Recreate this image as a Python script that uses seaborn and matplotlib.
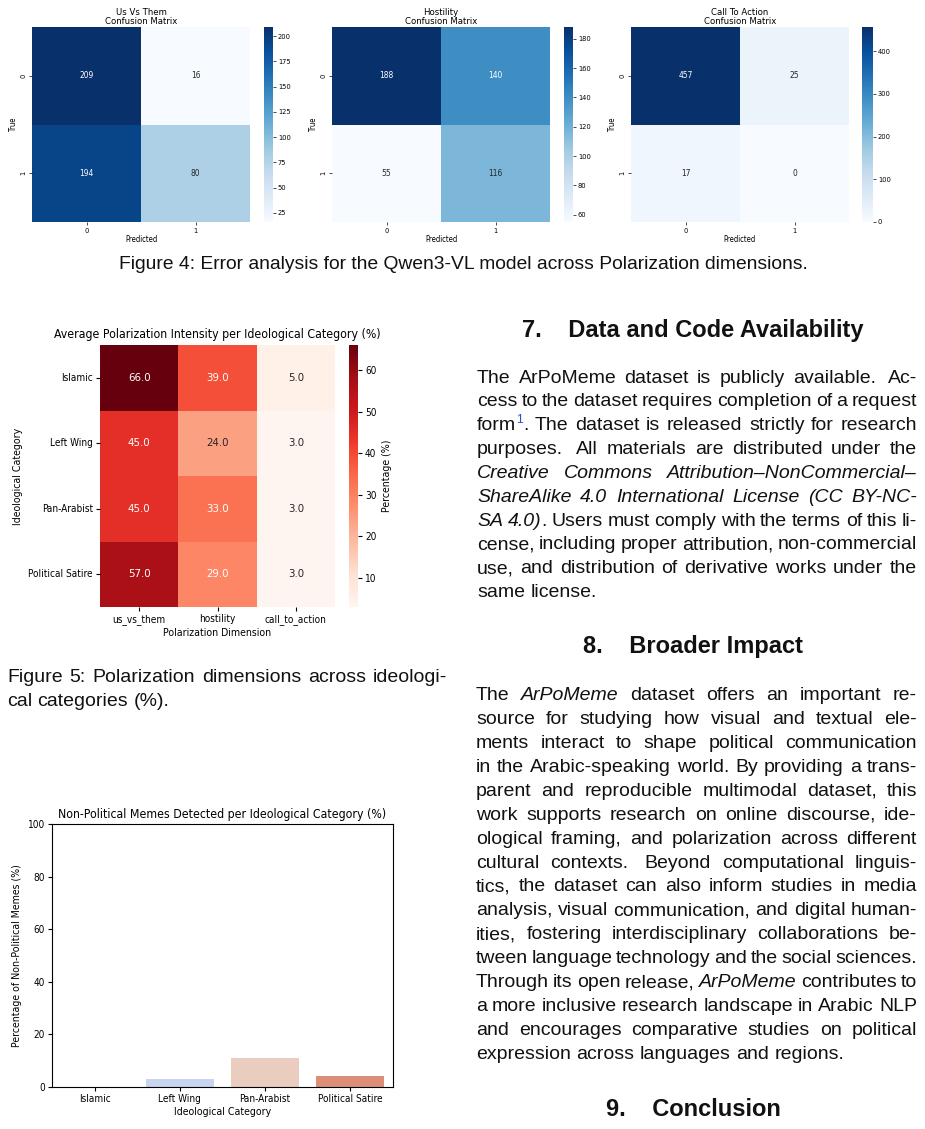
import re
import numpy as np
import pandas as pd
import seaborn as sns
import matplotlib.pyplot as plt
from matplotlib import font_manager

W, H = 925, 1129

# confusion matrices, rows = true, cols = predicted
cm_titles = ["Us Vs Them", "Hostility", "Call To Action"]
cm_us_vs_them = [[209, 16], [194, 80]]
cm_hostility = [[188, 140], [55, 116]]
cm_call_to_action = [[457, 25], [17, 0]]
cm_classes = [0, 1]

# average polarization intensity per ideological category (%)
categories = ["Islamic", "Left Wing", "Pan-Arabist", "Political Satire"]
dimensions = ["us_vs_them", "hostility", "call_to_action"]
us_vs_them = [66.0, 45.0, 45.0, 57.0]
hostility = [39.0, 24.0, 33.0, 29.0]
call_to_action = [5.0, 3.0, 3.0, 3.0]

# non-political memes detected (%)
non_political = [0.0, 3.0, 11.0, 4.0]

# page text
caption4 = "Figure 4: Error analysis for the Qwen3-VL model across Polarization dimensions."
caption5 = ["Figure 5: Polarization dimensions across ideologi-", "cal categories (%)."]
head7 = "7.    Data and Code Availability"
para7 = [
    "The ArPoMeme dataset is publicly available.  Ac-",
    "cess to the dataset requires completion of a request",
    "form^1^. The dataset is released strictly for research",
    "purposes.  All materials are distributed under the",
    "*Creative Commons Attribution–NonCommercial–*",
    "*ShareAlike 4.0 International License (CC BY-NC-*",
    "*SA 4.0)*. Users must comply with the terms of this li-",
    "cense, including proper attribution, non-commercial",
    "use, and distribution of derivative works under the",
    "same license.",
]
head8 = "8.    Broader Impact"
para8 = [
    "The *ArPoMeme* dataset offers an important re-",
    "source for studying how visual and textual ele-",
    "ments interact to shape political communication",
    "in the Arabic-speaking world. By providing a trans-",
    "parent and reproducible multimodal dataset, this",
    "work supports research on online discourse, ide-",
    "ological framing, and polarization across different",
    "cultural contexts.  Beyond computational linguis-",
    "tics, the dataset can also inform studies in media",
    "analysis, visual communication, and digital human-",
    "ities, fostering interdisciplinary collaborations be-",
    "tween language technology and the social sciences.",
    "Through its open release, *ArPoMeme* contributes to",
    "a more inclusive research landscape in Arabic NLP",
    "and encourages comparative studies on political",
    "expression across languages and regions.",
]
head9 = "9.    Conclusion"

# chart font: condensed dejavu if the system has it
names = {f.name for f in font_manager.fontManager.ttflist}
chart_font = "DejaVu Sans Condensed" if "DejaVu Sans Condensed" in names else "DejaVu Sans"
plt.rcParams["font.family"] = chart_font
plt.rcParams["font.stretch"] = "condensed"
BODY = "Liberation Sans"

fig = plt.figure(figsize=(W / 100, H / 100), dpi=100)
fig.patch.set_facecolor("white")


def box(l, t, r, b):
    return [l / W, 1 - b / H, (r - l) / W, (b - t) / H]


# ---- Figure 4: confusion matrices
cms = [cm_us_vs_them, cm_hostility, cm_call_to_action]
cm_boxes = [(32, 27, 250, 222), (332, 27, 550, 222), (631, 27, 849, 222)]
cb_boxes = [(264, 27, 273, 222), (564, 27, 573, 222), (862, 27, 873, 222)]
for title, cm, b, cb in zip(cm_titles, cms, cm_boxes, cb_boxes):
    ax = fig.add_axes(box(*b))
    cax = fig.add_axes(box(*cb))
    df_cm = pd.DataFrame(cm, index=cm_classes, columns=cm_classes)
    sns.heatmap(df_cm, annot=True, fmt="d", cmap="Blues", ax=ax, cbar_ax=cax,
                annot_kws={"size": 6})
    ax.set_title(title + "\nConfusion Matrix", fontsize=6.8, pad=2, linespacing=1.05)
    ax.set_xlabel("Predicted", fontsize=5.5, labelpad=1)
    ax.set_ylabel("True", fontsize=5.5, labelpad=2)
    ax.tick_params(labelsize=5.3, length=2, width=0.5, pad=2)
    ax.set_yticklabels(cm_classes, rotation=90, va="center")
    cax.tick_params(labelsize=5.3, length=2, width=0.5, pad=1.5)

# ---- Figure 5: polarization heatmap
df_pol = pd.DataFrame({"us_vs_them": us_vs_them, "hostility": hostility,
                       "call_to_action": call_to_action}, index=categories)[dimensions]
ax = fig.add_axes(box(100, 345, 335, 607))
cax = fig.add_axes(box(349, 345, 358, 607))
sns.heatmap(df_pol, annot=True, fmt=".1f", cmap="Reds", ax=ax, cbar_ax=cax,
            cbar_kws={"label": "Percentage (%)"}, annot_kws={"size": 8.2})
ax.set_title("Average Polarization Intensity per Ideological Category (%)", fontsize=8.8, pad=5)
ax.set_xlabel("Polarization Dimension", fontsize=7.6, labelpad=2)
ax.set_ylabel("Ideological Category", fontsize=7.6)
ax.tick_params(labelsize=7.2, length=3, pad=2)
ax.set_yticklabels(categories, rotation=0)
cax.tick_params(labelsize=7.2, length=3, pad=2)
cax.yaxis.label.set_size(7.6)

# ---- non-political bar chart
ax = fig.add_axes(box(52, 824, 393, 1087))
sns.barplot(x=categories, y=non_political, hue=categories, palette="coolwarm",
            legend=False, ax=ax)
ax.set_ylim(0, 100)
ax.set_title("Non-Political Memes Detected per Ideological Category (%)", fontsize=8.8, pad=4)
ax.set_xlabel("Ideological Category", fontsize=7.6, labelpad=2)
ax.set_ylabel("Percentage of Non-Political Memes (%)", fontsize=7.6)
ax.tick_params(labelsize=7.2, length=3, pad=2)

# ---- text on the page
renderer = fig.canvas.get_renderer()


def ink(txt, size, style):
    t = fig.text(0, 0, txt, fontsize=size, family=BODY, stretch="normal", style=style)
    w = t.get_window_extent(renderer).width
    t.remove()
    return w


def metrics(txt, size, style):
    # advance width and left bearing, bracketing with "|" so bearings cancel
    full = ink("|" + txt + "|", size, style)
    bars = ink("||", size, style)
    adv = full - bars
    lsb = full - ink(txt + "|", size, style) - bars / 2
    return adv, lsb


def parse(line):
    # words as lists of (text, italic, superscript) pieces, plus space weights
    words, seps = [], []
    italic = False
    sup = False
    for sep, w in re.findall(r"( *)(\S+)", line):
        pieces = []
        buf = ""
        for ch in w:
            if ch in "*^":
                if buf:
                    pieces.append((buf, italic, sup))
                    buf = ""
                if ch == "*":
                    italic = not italic
                else:
                    sup = not sup
            else:
                buf += ch
        if buf:
            pieces.append((buf, italic, sup))
        words.append(pieces)
        seps.append(1.0 if len(sep) < 2 else 1.5)
    return words, seps[1:]


def text_line(line, x0, x1, y, size, justify=True):
    words, seps = parse(line)
    placed = []
    widths = []
    for pieces in words:
        items = []
        ww = 0
        for txt, it, sup in pieces:
            fs = size * (0.62 if sup else 1)
            st = "italic" if it else "normal"
            adv, lsb = metrics(txt, fs, st)
            t = fig.text(0, 0, txt, fontsize=fs, family=BODY, stretch="normal", style=st,
                         color="#2a4fd6" if sup else "#111111", va="baseline")
            items.append((t, ww + lsb, sup))
            ww += adv
        placed.append(items)
        widths.append(ww)
    space = 0.278 * size * 100 / 72
    if justify and len(words) > 1:
        unit = (x1 - x0 - sum(widths)) / sum(seps)
    else:
        unit = space
    x = x0
    for i, (items, ww) in enumerate(zip(placed, widths)):
        for t, off, sup in items:
            yy = y - (size * 0.55 if sup else 0)
            t.set_position(((x + off) / W, 1 - yy / H))
        if i < len(seps):
            x += ww + unit * seps[i]


def paragraph(lines, x0, x1, y0, step, size):
    for i, line in enumerate(lines):
        text_line(line, x0, x1, y0 + i * step, size, justify=(i < len(lines) - 1))


def heading(txt, xc, y, size=17):
    fig.text(xc / W, 1 - y / H, txt, fontsize=size, family=BODY, stretch="normal",
             weight="bold", ha="center", va="baseline", color="#111111")


fig.text(463 / W, 1 - 269 / H, caption4, fontsize=13.9, family=BODY, stretch="normal",
         ha="center", va="baseline", color="#111111")
text_line(caption5[0], 7, 447, 682, 14)
text_line(caption5[1], 7, 447, 705.5, 14, justify=False)

heading(head7, 693, 337)
paragraph(para7, 477, 917, 382.7, 23.8, 14)
heading(head8, 693, 653)
paragraph(para8, 476, 917, 700, 23.93, 14)
heading(head9, 693, 1116.5)

fig.savefig("out.png", dpi=100, facecolor="white")
